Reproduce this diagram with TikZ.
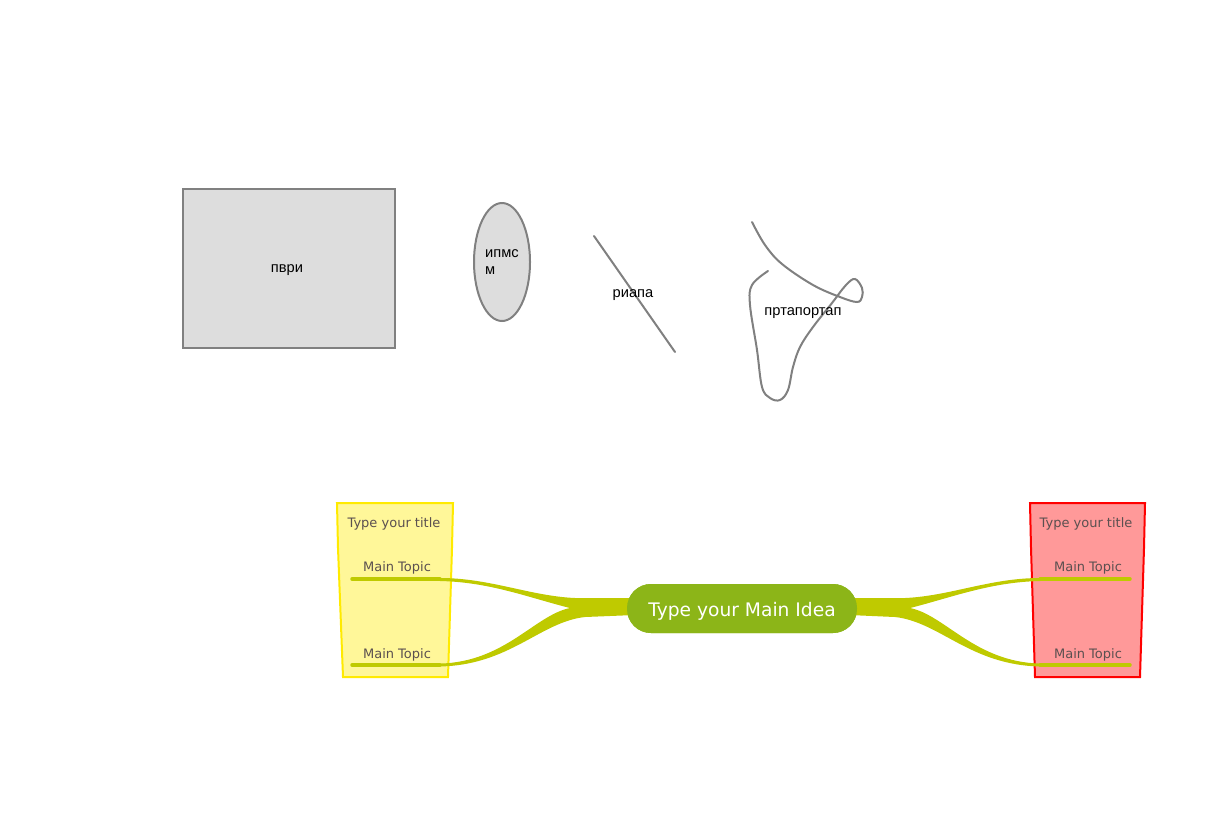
\documentclass[tikz,border=0pt]{standalone}
\usepackage{fontspec}
\setmainfont{DejaVu Sans}
\newfontfamily\arialf{Liberation Sans}
\usetikzlibrary{shapes.geometric}
\definecolor{shgray}{HTML}{808080}
\definecolor{shfill}{HTML}{DDDDDD}
\definecolor{branch}{HTML}{BFCA00}
\definecolor{mainc}{HTML}{8CB518}
\definecolor{yelf}{HTML}{FFF799}
\definecolor{yelb}{HTML}{FFEA00}
\definecolor{redf}{HTML}{FF9999}
\definecolor{redb}{HTML}{FF0000}
\definecolor{txt}{HTML}{5B5050}
\tikzset{
  grayshape/.style={draw=shgray, fill=shfill, line width=1.5pt},
  grayline/.style={draw=shgray, line width=1.5pt, line cap=round},
  cyr/.style={font=\arialf\fontsize{11}{12.75}\selectfont, text=black, inner sep=0pt},
  topic/.style={font=\fontsize{9.75}{12}\selectfont, text=txt, inner sep=0pt},
  underline/.style={draw=branch, line width=2.6pt, line cap=round},
  branchfill/.style={fill=branch, draw=none},
}
\begin{document}
\begin{tikzpicture}[x=0.75pt, y=-0.75pt]
\useasboundingbox (0,0) rectangle (1227,826);

% top shapes
\node[grayshape, minimum width=159pt, minimum height=119.25pt] (box) at (289,268.5) {};
\node[cyr] (boxtxt) at (287,270) {пври};
\node[grayshape, cyr, ellipse, minimum width=42pt, minimum height=88.5pt, align=left] (ell) at (502,262) {ипмс\\м};
\coordinate (la) at (594,236);
\coordinate (lb) at (675,352);
\draw[grayline] (la) -- (lb);
\node[cyr] (ltxt) at (633,295) {риапа};
\draw[grayline] plot[smooth, tension=0.6] coordinates {(752,222) (765,245) (782,264) (813,285) (840,297) (857,302) (862,297) (862,288) (855,279) (846,285) (832,303) (813,327) (800,347) (793,367) (788,390) (780,400) (770,398) (762,387) (757,350) (750,305) (752,285) (768,271)};
\node[cyr] (ftxt) at (803,313) {пртапортап};

% floating boxes
\draw[fill=yelf, draw=yelb, line width=1.5pt] (337,503) -- (453,503) -- (452,548) -- (448,677) -- (343,677) -- (338,548) -- cycle;
\draw[fill=redf, draw=redb, line width=1.5pt] (1030,503) -- (1145,503) -- (1144,548) -- (1140,677) -- (1035,677) -- (1031,548) -- cycle;
\node[topic] (yt) at (394,524) {Type your title};
\node[topic] (rt) at (1086,524) {Type your title};

% central node background
\node[fill=mainc, rounded corners=18pt, minimum width=172.5pt, minimum height=36.75pt, inner sep=0pt] (main) at (742,608.5) {};
\coordinate (L1) at (440,579);
\coordinate (L2) at (440,665);
\coordinate (R1) at (1040,579);
\coordinate (R2) at (1040,665);
% left branches
\fill[branchfill] ([yshift=0.75pt]L1) .. controls (490,578) and (530,596) .. (575,598)
  -- ([xshift=6pt]main.west |- 0,598) -- ([xshift=6pt]main.west |- 0,615) -- (585,617)
  .. controls (540,622) and (510,665) .. ([yshift=-1.1pt]L2)
  -- ([yshift=1.1pt]L2)
  .. controls (505,662) and (535,615) .. (570,608)
  .. controls (530,598) and (490,582) .. ([yshift=-1.5pt]L1) -- cycle;
% right branches
\fill[branchfill] ([yshift=0.75pt]R1) .. controls (990,578) and (950,596) .. (905,598)
  -- ([xshift=-6pt]main.east |- 0,598) -- ([xshift=-6pt]main.east |- 0,615) -- (895,617)
  .. controls (940,622) and (970,665) .. ([yshift=-1.1pt]R2)
  -- ([yshift=1.1pt]R2)
  .. controls (975,662) and (945,615) .. (910,608)
  .. controls (950,598) and (990,582) .. ([yshift=-1.5pt]R1) -- cycle;
\draw[underline] (352,579) -- (L1);
\draw[underline] (352,665) -- (L2);
\draw[underline] (R1) -- (1130,579);
\draw[underline] (R2) -- (1130,665);
\node[topic] (t1) at (397,568) {Main Topic};
\node[topic] (t2) at (397,655) {Main Topic};
\node[topic] (t3) at (1088,568) {Main Topic};
\node[topic] (t4) at (1088,655) {Main Topic};

\node[fill=mainc, rounded corners=18pt, minimum width=172.5pt, minimum height=36.75pt, inner sep=0pt] (mainbox) at (main) {};
\node[text=white, inner sep=0pt, font=\fontsize{14}{16}\selectfont] (mainlabel) at (742,611) {Type your Main Idea};
\end{tikzpicture}
\end{document}
